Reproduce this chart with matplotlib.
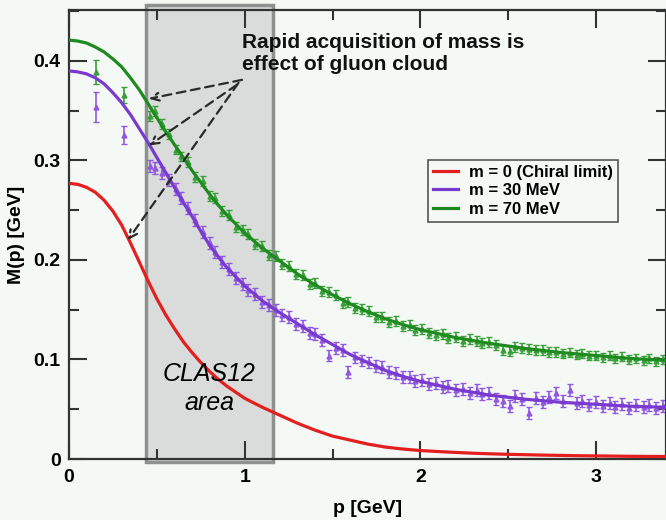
import matplotlib
matplotlib.use("Agg")
import matplotlib.pyplot as plt
from matplotlib.ticker import MultipleLocator

plt.rcParams['font.family'] = ['Liberation Sans', 'DejaVu Sans']

# model curves M(p): 0.05 GeV steps up to 1 GeV, then 0.1 GeV
p_curve = [0.0, 0.05, 0.1, 0.15, 0.2, 0.25, 0.3, 0.35, 0.4, 0.45,
           0.5, 0.55, 0.6, 0.65, 0.7, 0.75, 0.8, 0.85, 0.9, 0.95,
           1.0, 1.1, 1.2, 1.3, 1.4, 1.5, 1.6, 1.7, 1.8, 1.9,
           2.0, 2.1, 2.2, 2.3, 2.4, 2.5, 2.6, 2.7, 2.8, 2.9,
           3.0, 3.1, 3.2, 3.3, 3.4]
m_chiral = [0.277, 0.276, 0.273, 0.268, 0.260, 0.249, 0.235, 0.217, 0.198, 0.179,
            0.161, 0.145, 0.131, 0.118, 0.107, 0.097, 0.088, 0.080, 0.073, 0.067,
            0.061, 0.052, 0.044, 0.036, 0.029, 0.023, 0.019, 0.015, 0.012, 0.010,
            0.0085, 0.0075, 0.0066, 0.0058, 0.0052, 0.0047, 0.0043, 0.0039, 0.0036, 0.0033,
            0.0031, 0.0029, 0.0027, 0.0026, 0.0025]
m_30 = [0.390, 0.389, 0.387, 0.383, 0.377, 0.368, 0.358, 0.346, 0.332, 0.318,
        0.303, 0.288, 0.273, 0.258, 0.244, 0.229, 0.215, 0.203, 0.192, 0.183,
        0.174, 0.159, 0.147, 0.136, 0.125, 0.115, 0.105, 0.097, 0.089, 0.083,
        0.078, 0.074, 0.070, 0.067, 0.064, 0.062, 0.060, 0.0585, 0.057, 0.056,
        0.055, 0.054, 0.053, 0.0525, 0.052]
m_70 = [0.421, 0.420, 0.418, 0.414, 0.409, 0.402, 0.394, 0.383, 0.371, 0.357,
        0.343, 0.329, 0.316, 0.303, 0.290, 0.278, 0.266, 0.255, 0.245, 0.236,
        0.227, 0.212, 0.199, 0.186, 0.175, 0.165, 0.156, 0.148, 0.141, 0.135,
        0.130, 0.126, 0.122, 0.119, 0.116, 0.1135, 0.111, 0.109, 0.107, 0.1055,
        0.104, 0.1025, 0.101, 0.100, 0.099]

# lattice points
p_low = [0.155, 0.313]
lat30_low = [0.354, 0.326]
err30_low = [0.015, 0.009]
lat70_low = [0.389, 0.366]
err70_low = [0.012, 0.008]

p_lat = [0.46, 0.49, 0.53, 0.57, 0.61, 0.64, 0.68, 0.72, 0.76, 0.80,
         0.83, 0.87, 0.91, 0.95, 0.99, 1.02, 1.06, 1.10, 1.14, 1.18,
         1.21, 1.25, 1.29, 1.33, 1.37, 1.40, 1.44, 1.48, 1.52, 1.56,
         1.59, 1.63, 1.67, 1.71, 1.75, 1.78, 1.82, 1.86, 1.90, 1.94,
         1.97, 2.01, 2.05, 2.09, 2.13, 2.16, 2.20, 2.24, 2.28, 2.32,
         2.35, 2.39, 2.43, 2.47, 2.51, 2.54, 2.58, 2.62, 2.66, 2.70,
         2.73, 2.77, 2.81, 2.85, 2.89, 2.92, 2.96, 3.00, 3.04, 3.08,
         3.11, 3.15, 3.19, 3.23, 3.27, 3.30, 3.34, 3.38]
lat30 = [0.294, 0.292, 0.287, 0.280, 0.271, 0.262, 0.252, 0.240, 0.228, 0.217,
         0.208, 0.198, 0.191, 0.182, 0.176, 0.170, 0.166, 0.158, 0.155, 0.150,
         0.145, 0.143, 0.136, 0.134, 0.127, 0.126, 0.120, 0.104, 0.112, 0.110,
         0.087, 0.102, 0.099, 0.097, 0.093, 0.092, 0.087, 0.086, 0.082, 0.082,
         0.078, 0.079, 0.075, 0.076, 0.072, 0.073, 0.069, 0.070, 0.066, 0.069,
         0.065, 0.066, 0.060, 0.058, 0.053, 0.063, 0.060, 0.046, 0.061, 0.057,
         0.062, 0.066, 0.058, 0.069, 0.056, 0.058, 0.054, 0.057, 0.053, 0.056,
         0.052, 0.055, 0.051, 0.054, 0.052, 0.054, 0.051, 0.053]
lat70 = [0.345, 0.350, 0.337, 0.327, 0.311, 0.304, 0.298, 0.283, 0.279, 0.264,
         0.262, 0.249, 0.245, 0.233, 0.230, 0.226, 0.216, 0.214, 0.205, 0.204,
         0.196, 0.194, 0.186, 0.185, 0.176, 0.177, 0.169, 0.168, 0.165, 0.157,
         0.158, 0.152, 0.151, 0.149, 0.143, 0.143, 0.138, 0.139, 0.134, 0.135,
         0.130, 0.131, 0.127, 0.125, 0.126, 0.122, 0.123, 0.119, 0.121, 0.119,
         0.117, 0.118, 0.115, 0.110, 0.109, 0.113, 0.112, 0.111, 0.110, 0.110,
         0.108, 0.108, 0.106, 0.107, 0.105, 0.106, 0.104, 0.104, 0.102, 0.104,
         0.101, 0.103, 0.100, 0.101, 0.099, 0.101, 0.098, 0.100]
err30 = 0.006
err70 = 0.005

band = (0.44, 1.16)

bg = '#f5f9f6'
red, purple, green = '#e3201f', '#7a3ad0', '#1f8a1f'
purple_pts, green_pts = '#9159e0', '#39a039'

fig = plt.figure(figsize=(6.66, 5.2), dpi=100, facecolor=bg)
ax = fig.add_axes([69/666, 61/520, 597/666, 449/520], facecolor=bg)

ax.axvspan(band[0], band[1], ymin=-0.007, ymax=1.012, clip_on=False,
           facecolor='#d9dcda', edgecolor='#8e918f', lw=2.5, zorder=0.5)

for pp, mm, ee, c in [(p_low, lat30_low, err30_low, purple_pts), (p_low, lat70_low, err70_low, green_pts),
                      (p_lat, lat30, err30, purple_pts), (p_lat, lat70, err70, green_pts)]:
    ax.errorbar(pp, mm, yerr=ee, fmt='^', ms=3.5, color=c, ecolor=c, elinewidth=1.2,
                capsize=2, capthick=1, zorder=2)

ax.plot(p_curve, m_chiral, color=red, lw=2.3, label='m = 0 (Chiral limit)', zorder=3)
ax.plot(p_curve, m_30, color=purple, lw=2.3, label='m = 30 MeV', zorder=3)
ax.plot(p_curve, m_70, color=green, lw=2.3, label='m = 70 MeV', zorder=3)

ax.text(0.985, 0.428, 'Rapid acquisition of mass is\neffect of gluon cloud',
        fontsize=15, fontweight='bold', va='top', ha='left', linespacing=1.2, color='#111111')
ax.text(0.8, 0.085, 'CLAS12', fontsize=18, style='italic', ha='center', va='center')
ax.text(0.8, 0.056, 'area', fontsize=18, style='italic', ha='center', va='center')

arrows = [((0.985, 0.381), (0.455, 0.362)),
          ((0.955, 0.376), (0.455, 0.315)),
          ((0.965, 0.378), (0.335, 0.220))]
for start, end in arrows:
    ax.annotate('', xy=end, xytext=start,
                arrowprops=dict(arrowstyle='->', ls=(0, (4, 2.5)), lw=1.6, color='#2a2a2a',
                                mutation_scale=14, shrinkA=0, shrinkB=0), zorder=4)

ax.set_xlim(0, 3.398)
ax.set_ylim(0, 0.4512)
ax.xaxis.set_major_locator(MultipleLocator(1))
ax.xaxis.set_minor_locator(MultipleLocator(0.5))
ax.yaxis.set_major_locator(MultipleLocator(0.1))
ax.yaxis.set_minor_locator(MultipleLocator(0.05))
ax.set_xticks([0, 1, 2, 3])
ax.set_xticklabels(['0', '1', '2', '3'])
ax.set_yticks([0, 0.1, 0.2, 0.3, 0.4])
ax.set_yticklabels(['0', '0.1', '0.2', '0.3', '0.4'])
ax.tick_params(which='both', direction='in', top=True, right=True, color='#333333', width=1.5,
               labelsize=14)
ax.tick_params(which='major', length=13)
ax.tick_params(which='minor', length=7)
ax.tick_params(axis='y', pad=6)
ax.tick_params(axis='x', pad=7)
for lab in ax.get_xticklabels() + ax.get_yticklabels():
    lab.set_fontweight('bold')
for s in ax.spines.values():
    s.set_linewidth(1.6)
    s.set_color('#333333')

ax.set_xlabel('p [GeV]', fontsize=14, fontweight='bold', labelpad=10)
ax.set_ylabel('M(p) [GeV]', fontsize=14, fontweight='bold', labelpad=6)

leg = ax.legend(loc='upper left', bbox_to_anchor=(0.601, 0.666), borderaxespad=0,
                fontsize=12, frameon=True, fancybox=False, handlelength=1.5,
                handletextpad=0.65, labelspacing=0.2, borderpad=0.3)
leg.get_frame().set_edgecolor('#555555')
leg.get_frame().set_facecolor(bg)
leg.get_frame().set_linewidth(1.2)
leg.get_frame().set_alpha(1)
for t in leg.get_texts():
    t.set_fontweight('bold')

fig.savefig('out.png', dpi=100, facecolor=bg)
